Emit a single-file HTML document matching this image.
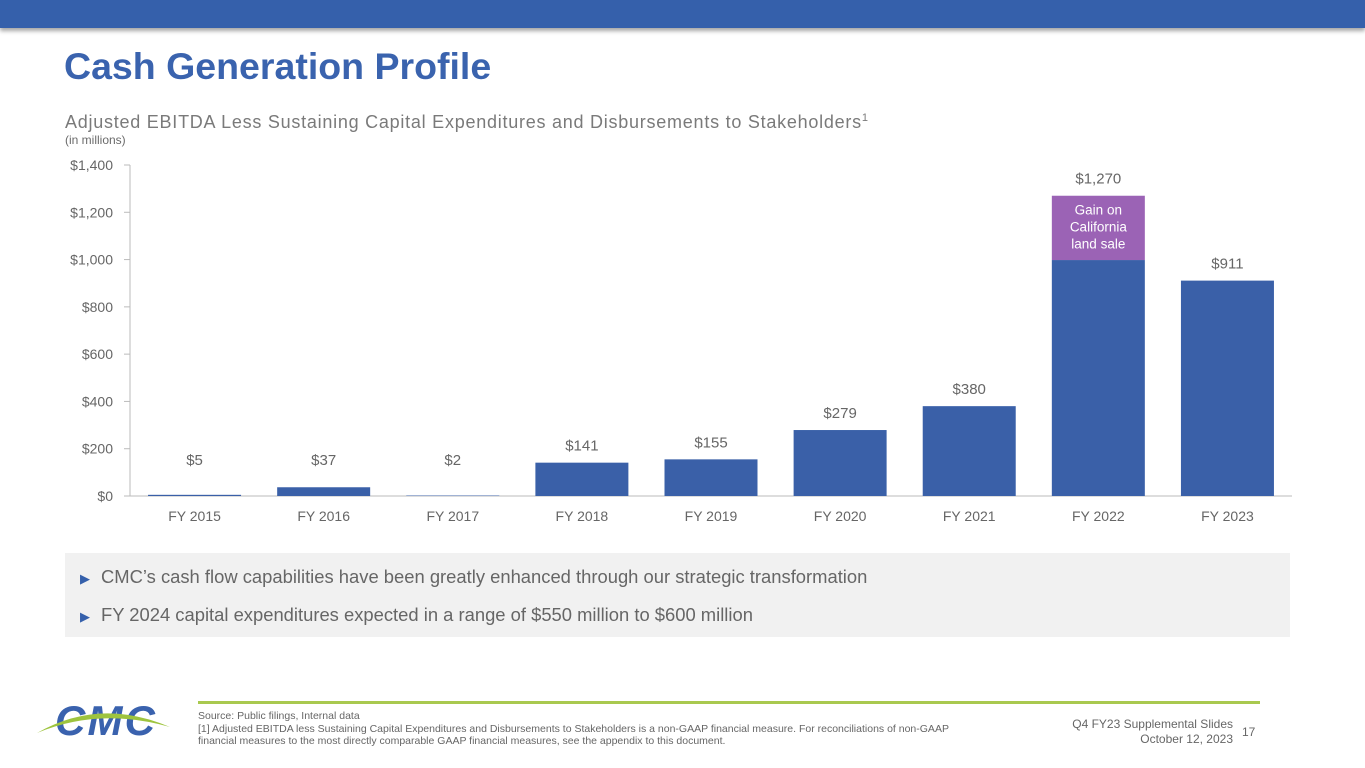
<!DOCTYPE html>
<html><head><meta charset="utf-8"><style>
body{margin:0;width:1365px;height:768px;position:relative;overflow:hidden;background:#fff;font-family:"Liberation Sans",sans-serif;}
.abs{position:absolute}
</style></head><body>
<div class="abs" style="left:0;top:0;width:1365px;height:28px;background:#3560ab;box-shadow:0 3px 4px rgba(0,0,0,0.35)"></div>
<div class="abs" style="left:64px;top:45px;font-size:37.5px;font-weight:bold;color:#3a63ae">Cash Generation Profile</div>
<div class="abs" style="left:65px;top:112px;font-size:18px;color:#7a7a7a;letter-spacing:0.75px">Adjusted EBITDA Less Sustaining Capital Expenditures and Disbursements to Stakeholders<sup style="font-size:11px">1</sup></div>
<div class="abs" style="left:65px;top:133px;font-size:12px;color:#6a6a6a">(in millions)</div>
<svg class="abs" id="chart" style="left:0;top:0" width="1365" height="540"></svg>
<div class="abs" style="left:65px;top:553px;width:1225px;height:84px;background:#f1f1f1"></div>
<div class="abs" style="left:80px;top:566px;font-size:18.4px;color:#666"><span style="color:#3560ab;font-size:13px;margin-right:11px">&#9654;</span>CMC’s cash flow capabilities have been greatly enhanced through our strategic transformation</div>
<div class="abs" style="left:80px;top:604px;font-size:18.4px;color:#666"><span style="color:#3560ab;font-size:13px;margin-right:11px">&#9654;</span>FY 2024 capital expenditures expected in a range of $550 million to $600 million</div>
<svg class="abs" style="left:35px;top:695px" width="135" height="50">
<text x="20" y="40" font-family="Liberation Sans" font-weight="bold" font-style="italic" font-size="42" fill="#3a62ae" textLength="100">CMC</text>
<path d="M2,38 Q65,2 135,32 Q65,12 2,38Z" fill="#9ec43e"/>
</svg>
<div class="abs" style="left:198px;top:701px;width:1062px;height:3px;background:#a9c94f"></div>
<div class="abs" style="left:198px;top:710px;font-size:10.5px;color:#666;line-height:12.5px;width:785px">Source: Public filings, Internal data<br>[1] Adjusted EBITDA less Sustaining Capital Expenditures and Disbursements to Stakeholders is a non-GAAP financial measure. For reconciliations of non-GAAP financial measures to the most directly comparable GAAP financial measures, see the appendix to this document.</div>
<div class="abs" style="left:1030px;top:717px;width:203px;text-align:right;font-size:12px;color:#666;line-height:15px">Q4 FY23 Supplemental Slides<br>October 12, 2023</div>
<div class="abs" style="left:1242px;top:725px;font-size:12px;color:#666">17</div>
<script>
const categories=["FY 2015","FY 2016","FY 2017","FY 2018","FY 2019","FY 2020","FY 2021","FY 2022","FY 2023"];
const baseValues=[5,37,2,141,155,279,380,998,911];
const gainValues=[0,0,0,0,0,0,0,272,0];
const valueLabels=["$5","$37","$2","$141","$155","$279","$380","$1,270","$911"];
const yTicks=[0,200,400,600,800,1000,1200,1400];
const NS="http://www.w3.org/2000/svg",svg=document.getElementById('chart');
const y0=496,y1=165,xL=130,xR=1292,bw=(xR-xL)/categories.length,barW=93;
const y=v=>y0-(v/1400)*(y0-y1);
const x=i=>xL+bw*(i+0.5);
function mk(t,a,txt){const e=document.createElementNS(NS,t);for(const k in a)e.setAttribute(k,a[k]);if(txt!==undefined)e.textContent=txt;svg.appendChild(e);return e;}
yTicks.forEach(v=>{
 const t=mk('text',{x:113,y:y(v)+5,'text-anchor':'end','font-size':14,fill:'#666','font-family':'Liberation Sans'},'$'+v.toLocaleString('en-US'));
 
 
 const l=mk('line',{x1:124,x2:130,y1:y(v),y2:y(v),stroke:'#bbb'});
 
 
});
const ax=mk('line',{x1:130,x2:130,y1:y1,y2:y0,stroke:'#bbb'});


const bx=mk('line',{x1:130,x2:xR,y1:y0,y2:y0,stroke:'#bbb'});


categories.forEach((c,i)=>{
 const b=baseValues[i],g=gainValues[i];
 const r=mk('rect',{x:x(i)-barW/2,y:y(b),width:barW,height:y0-y(b),fill:'#3a60a8'});
 
 
 if(g>0){
  const p=mk('rect',{x:x(i)-barW/2,y:y(b+g),width:barW,height:y(b)-y(b+g),fill:'#9b63b5'});
  
  
  ['Gain on','California','land sale'].forEach((s,k)=>{
   const t=mk('text',{x:x(i),y:y(b+g)+19+k*17,'text-anchor':'middle','font-size':13.5,fill:'#fff','font-family':'Liberation Sans'},s);
   
   
  });
 }
 const tot=b+g;
 const ly=Math.min(y(tot)-12,465);
 const vl=mk('text',{x:x(i),y:ly,'text-anchor':'middle','font-size':15,fill:'#666','font-family':'Liberation Sans'},valueLabels[i]);
 
 
 const cl=mk('text',{x:x(i),y:521,'text-anchor':'middle','font-size':14,fill:'#666','font-family':'Liberation Sans'},c);
 
 
});
</script>
</body></html>
